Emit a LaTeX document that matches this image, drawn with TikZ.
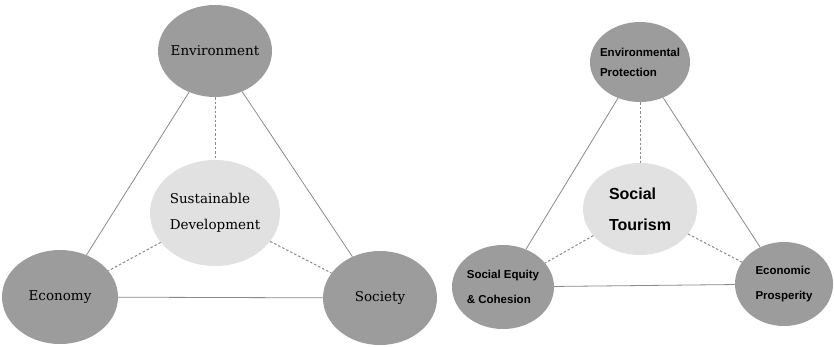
\documentclass[tikz,border=0pt]{standalone}
\usepackage{fontspec}
\setmainfont{DejaVu Serif}
\newfontfamily\tourfont{Liberation Sans}
\usetikzlibrary{shapes.geometric}
\definecolor{pillar}{HTML}{9C9C9C}
\definecolor{core}{HTML}{E1E1E1}
\definecolor{link}{HTML}{8A8A8A}
\begin{document}
\begin{tikzpicture}[x=1pt,y=-1pt,
                    pillar/.style={ellipse,fill=pillar,inner sep=0pt},
                    core/.style={ellipse,fill=core,inner sep=0pt},
                    solidlink/.style={draw=link,line width=0.8pt},
                    dashlink/.style={draw=link,line width=1pt,dash pattern=on 2.5pt off 2pt}
                ]
    \useasboundingbox[fill=white] (0,0) rectangle (834,346);
    % sustainable development
    \node[pillar,minimum width=114,minimum height=92] (env) at (215,51) {};
    \node[core,minimum width=130,minimum height=106] (sd) at (215,213) {};
    \node[pillar,minimum width=116,minimum height=94] (eco) at (60,297) {};
    \node[pillar,minimum width=114,minimum height=94] (soc) at (380,298) {};
    \node[font=\fontsize{13.5}{15}\selectfont] at (env) {Environment};
    \node[font=\fontsize{13.5}{26}\selectfont,align=left] at (sd) {Sustainable\\Development};
    \node[font=\fontsize{13.5}{15}\selectfont] at (eco) {Economy};
    \node[font=\fontsize{13.5}{15}\selectfont] at (soc) {Society};
    \draw[solidlink] (env) -- (eco);
    \draw[solidlink] (env) -- (soc);
    \draw[solidlink] (eco) -- (soc);
    \draw[dashlink] (env) -- (sd);
    \draw[dashlink] (sd) -- (eco);
    \draw[dashlink] (sd) -- (soc);
    % social tourism
    \node[pillar,minimum width=100,minimum height=80] (envp) at (640,62) {};
    \node[core,minimum width=114,minimum height=92] (st) at (640,209) {};
    \node[pillar,minimum width=102,minimum height=84] (seq) at (503,287) {};
    \node[pillar,minimum width=98,minimum height=84] (ecop) at (784,284) {};
    \node[font=\tourfont\bfseries\fontsize{11.5}{20}\selectfont,align=left] at (envp) {Environmental\\Protection};
    \node[font=\tourfont\bfseries\fontsize{16}{31}\selectfont,align=left] at (st) {Social\\Tourism};
    \node[font=\tourfont\bfseries\fontsize{11.5}{25}\selectfont,align=left] at (seq) {Social Equity\\\& Cohesion};
    \node[font=\tourfont\bfseries\fontsize{11.5}{25}\selectfont,align=left] at (ecop) {Economic\\Prosperity};
    \draw[solidlink] (envp) -- (seq);
    \draw[solidlink] (envp) -- (ecop);
    \draw[solidlink] (seq) -- (ecop);
    \draw[dashlink] (envp) -- (st);
    \draw[dashlink] (st) -- (seq);
    \draw[dashlink] (st) -- (ecop);
\end{tikzpicture}
\end{document}
